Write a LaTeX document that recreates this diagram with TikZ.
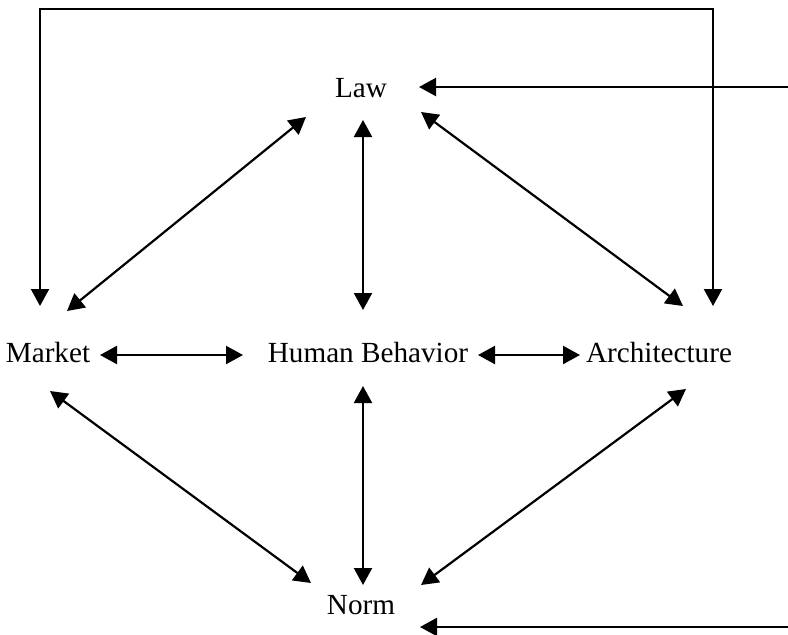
\documentclass[tikz,border=0pt]{standalone}
\usepackage{fontspec}
\setmainfont{Liberation Serif}
\usetikzlibrary{arrows.meta,calc}
\begin{document}
\begin{tikzpicture}[x=0.5pt,y=-0.5pt,
  lbl/.style={inner sep=0pt,anchor=base,font=\fontsize{14.6}{17}\selectfont},
  conn/.style={line width=1.1pt,{Triangle[length=8.5pt,width=9pt]}-{Triangle[length=8.5pt,width=9pt]}},
  oneway/.style={line width=1.1pt,-{Triangle[length=8.5pt,width=9pt]}}]
\useasboundingbox (0,0) rectangle (788,634);
\node[lbl] (law) at (361,97) {Law};
\node[lbl] (market) at (48,362) {Market};
\node[lbl] (hb) at (368,362) {Human Behavior};
\node[lbl] (arch) at (659,362) {Architecture};
\node[lbl] (norm) at (361,614) {Norm};
\coordinate (tl) at (40,9);
\coordinate (tr) at (713,9);
\coordinate (lawsrc) at (788,87);
\coordinate (normsrc) at (788,627);
% law connections
\draw[conn] ($(law.base)+(-55,20)$) -- ($(market.base)+(19,-51)$);
\draw[conn] ($(law.base)+(2,23)$) -- ($(hb.base)+(-5,-52)$);
\draw[conn] ($(law.base)+(60,15)$) -- ($(arch.base)+(24,-56)$);
\draw[oneway] (lawsrc) -- ($(law.base)+(58,-10)$);
% middle row
\draw[conn] ($(market.base)+(52,-7)$) -- ($(hb.base)+(-125,-7)$);
\draw[conn] ($(hb.base)+(110,-7)$) -- ($(arch.base)+(-79,-7)$);
% norm connections
\draw[conn] ($(hb.base)+(-5,24)$) -- ($(norm.base)+(2,-29)$);
\draw[conn] ($(market.base)+(2,29)$) -- ($(norm.base)+(-50,-31)$);
\draw[conn] ($(arch.base)+(27,27)$) -- ($(norm.base)+(60,-29)$);
\draw[oneway] (normsrc) -- ($(norm.base)+(59,13)$);
% top loop
\draw[conn] ($(market.base)+(-8,-56)$) -- (tl) -- (tr) -- ($(arch.base)+(54,-56)$);
\end{tikzpicture}
\end{document}
